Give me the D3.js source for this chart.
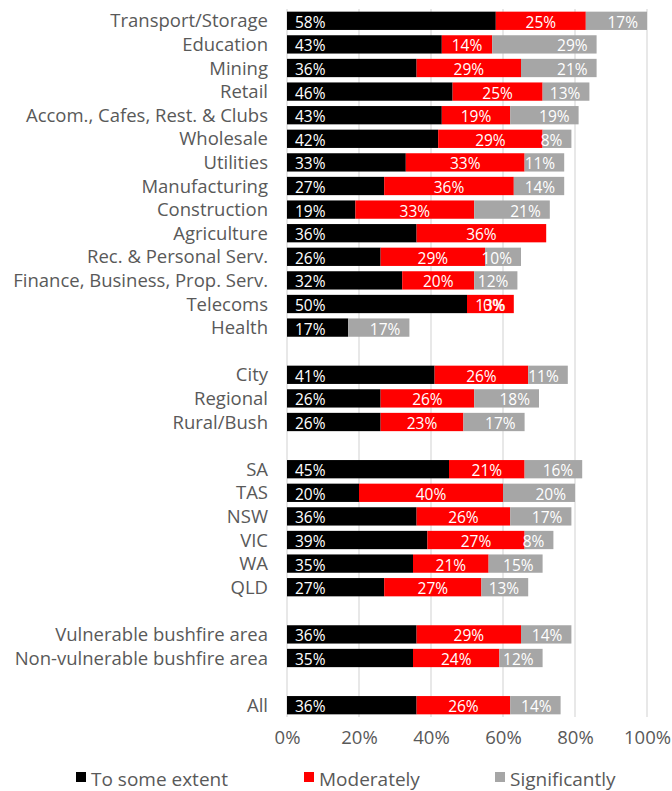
<!DOCTYPE html>
<html>
<head>
<meta charset="utf-8">
<script src="https://cdn.jsdelivr.net/npm/d3@7"></script>
<style>
  html, body { margin: 0; padding: 0; background: #fff; }
  svg { display: block; font-family: "Open Sans", "Noto Sans", sans-serif; }
</style>
</head>
<body>
<svg id="chart" width="672" height="791"></svg>
<script>
// Row labels, top to bottom; empty strings are spacer rows between groups
const categories = [
  "Transport/Storage", "Education", "Mining", "Retail", "Accom., Cafes, Rest. & Clubs",
  "Wholesale", "Utilities", "Manufacturing", "Construction", "Agriculture",
  "Rec. & Personal Serv.", "Finance, Business, Prop. Serv.", "Telecoms", "Health",
  "",
  "City", "Regional", "Rural/Bush",
  "",
  "SA", "TAS", "NSW", "VIC", "WA", "QLD",
  "",
  "Vulnerable bushfire area", "Non-vulnerable bushfire area",
  "",
  "All"
];

// Share of respondents (%) per row; null = no value reported
const toSomeExtent = [58, 43, 36, 46, 43, 42, 33, 27, 19, 36, 26, 32, 50, 17,
  null, 41, 26, 26, null, 45, 20, 36, 39, 35, 27, null, 36, 35, null, 36];
const moderately = [25, 14, 29, 25, 19, 29, 33, 36, 33, 36, 29, 20, 13, null,
  null, 26, 26, 23, null, 21, 40, 26, 27, 21, 27, null, 29, 24, null, 26];
const significantly = [17, 29, 21, 13, 19, 8, 11, 14, 21, null, 10, 12, 0, 17,
  null, 11, 18, 17, null, 16, 20, 17, 8, 15, 13, null, 14, 12, null, 14];

const seriesNames = ["To some extent", "Moderately", "Significantly"];
const seriesColors = ["#000000", "#ff0000", "#a6a6a6"];
const xTicks = [0, 20, 40, 60, 80, 100];

const svg = d3.select("#chart");
const margin = { top: 9, right: 24, bottom: 74, left: 287 };
const width = 672, height = 791;

const rowKeys = categories.map((c, i) => i);
const y = d3.scaleBand()
  .domain(rowKeys)
  .range([margin.top, height - margin.bottom])
  .paddingInner(0.225)
  .paddingOuter(0.1125);

const x = d3.scaleLinear()
  .domain([0, 100])
  .range([margin.left, width - margin.right - 1]);

// Vertical gridlines
svg.append("g")
  .selectAll("line")
  .data(xTicks)
  .join("line")
  .attr("x1", d => x(d)).attr("x2", d => x(d))
  .attr("y1", margin.top).attr("y2", height - margin.bottom)
  .attr("stroke", "#d9d9d9")
  .attr("stroke-width", 1.2);

// Tick labels along the bottom
const xAxis = d3.axisBottom(x).tickValues(xTicks).tickFormat(d => d + "%").tickSize(0).tickPadding(0);
const axisG = svg.append("g")
  .attr("transform", `translate(0,${height - margin.bottom + 14})`)
  .call(xAxis);
axisG.select(".domain").remove();
axisG.selectAll("text")
  .attr("font-family", "Open Sans, Noto Sans, sans-serif")
  .attr("font-size", 18.5)
  .attr("fill", "#595959");

// Build stacked segments
const values = [toSomeExtent, moderately, significantly];
const rows = categories.map((c, i) => {
  let acc = 0;
  const segs = values.map((arr, s) => {
    const v = arr[i];
    const x0 = acc;
    if (v != null) acc += v;
    return { row: i, series: s, value: v, x0, x1: acc };
  });
  return { label: c, index: i, segs };
});
const segments = rows.flatMap(r => r.segs).filter(s => s.value != null);

svg.append("g")
  .selectAll("rect")
  .data(segments)
  .join("rect")
  .attr("x", d => x(d.x0))
  .attr("y", d => y(d.row))
  .attr("width", d => x(d.x1) - x(d.x0))
  .attr("height", y.bandwidth())
  .attr("fill", d => seriesColors[d.series]);

// Value labels: first series at bar start, second centred, third at segment end
svg.append("g")
  .selectAll("text")
  .data(segments)
  .join("text")
  .attr("x", d => d.series === 0 ? x(d.x0) + 8
    : d.series === 1 ? (x(d.x0) + x(d.x1)) / 2
    : x(d.x1) - 9)
  .attr("y", d => y(d.row) + y.bandwidth() / 2)
  .attr("dy", "0.45em")
  .attr("text-anchor", d => d.series === 0 ? "start" : d.series === 1 ? "middle" : "end")
  .attr("font-size", 15.5)
  .attr("fill", "#ffffff")
  .text(d => d.value + "%");

// Row labels
svg.append("g")
  .selectAll("text")
  .data(rows.filter(r => r.label !== ""))
  .join("text")
  .attr("x", margin.left - 19)
  .attr("y", d => y(d.index) + y.bandwidth() / 2)
  .attr("dy", "0.36em")
  .attr("text-anchor", "end")
  .attr("font-size", 18.5)
  .attr("fill", "#595959")
  .text(d => d.label);

// Legend
const legendX = [76, 304, 495];
const legend = svg.append("g").attr("transform", `translate(0,${height - 5})`);
const items = legend.selectAll("g")
  .data(seriesNames)
  .join("g")
  .attr("transform", (d, i) => `translate(${legendX[i]},0)`);
items.append("rect")
  .attr("x", 0).attr("y", -14)
  .attr("width", 10).attr("height", 10)
  .attr("fill", (d, i) => seriesColors[i]);
items.append("text")
  .attr("x", 15).attr("y", 0)
  .attr("font-size", 19)
  .attr("fill", "#595959")
  .text(d => d);
</script>
</body>
</html>
